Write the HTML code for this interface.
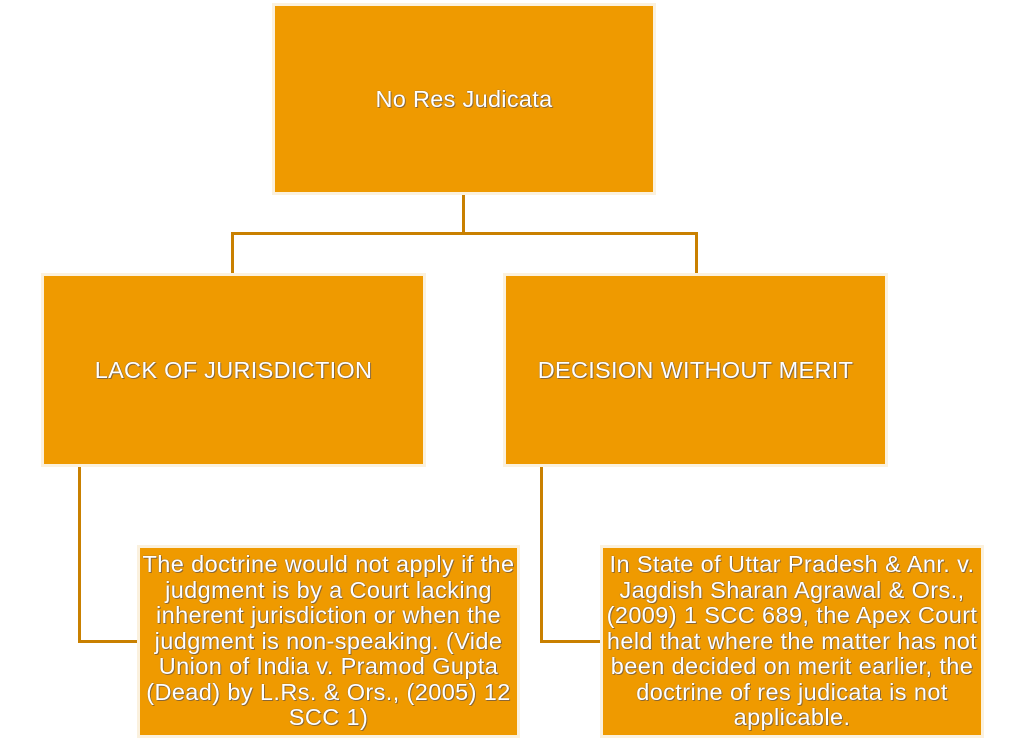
<!DOCTYPE html>
<html><head><style>
body{margin:0;width:1024px;height:741px;background:#fff;position:relative;overflow:hidden;font-family:"Liberation Sans",sans-serif;}
.b{position:absolute;box-sizing:border-box;background:#ef9a00;border:3px solid #fbf1de;color:#fff;display:flex;align-items:center;justify-content:center;text-align:center;text-shadow:0 0 1px #556,1px 1px 0 rgba(60,60,90,.5);}
.l{position:absolute;background:#c98000;}
.t{font-size:23.5px;letter-spacing:0.3px;}
.s{font-size:23.5px;line-height:25.5px;white-space:nowrap;letter-spacing:0.4px;}
</style></head><body>
<div class="l" style="left:462px;top:194px;width:3px;height:41px"></div>
<div class="l" style="left:231px;top:232px;width:467px;height:3px"></div>
<div class="l" style="left:231px;top:232px;width:3px;height:42px"></div>
<div class="l" style="left:695px;top:232px;width:3px;height:42px"></div>
<div class="l" style="left:78px;top:466px;width:3px;height:177px"></div>
<div class="l" style="left:78px;top:640px;width:60px;height:3px"></div>
<div class="l" style="left:540px;top:466px;width:3px;height:177px"></div>
<div class="l" style="left:540px;top:640px;width:61px;height:3px"></div>
<div class="b t" style="left:272px;top:3px;width:384px;height:192px">No Res Judicata</div>
<div class="b t" style="left:41px;top:273px;width:385px;height:194px">LACK OF JURISDICTION</div>
<div class="b t" style="left:503px;top:273px;width:385px;height:194px">DECISION WITHOUT MERIT</div>
<div class="b s" style="left:137px;top:545px;width:383px;height:193px"><div>The doctrine would not apply if the<br>judgment is by a Court lacking<br>inherent jurisdiction or when the<br>judgment is non-speaking. (Vide<br>Union of India v. Pramod Gupta<br>(Dead) by L.Rs. &amp; Ors., (2005) 12<br>SCC 1)</div></div>
<div class="b s" style="left:600px;top:545px;width:384px;height:193px"><div>In State of Uttar Pradesh &amp; Anr. v.<br>Jagdish Sharan Agrawal &amp; Ors.,<br>(2009) 1 SCC 689, the Apex Court<br>held that where the matter has not<br>been decided on merit earlier, the<br>doctrine of res judicata is not<br>applicable.</div></div>
</body></html>
